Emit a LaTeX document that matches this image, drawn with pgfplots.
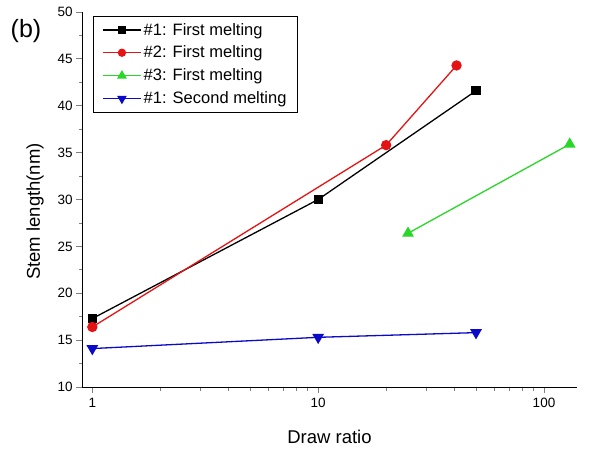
\documentclass[border=0pt]{standalone}
\usepackage{pgfplots}
\pgfplotsset{compat=1.18}
\usepackage{fontspec}
\setmainfont{Liberation Sans}
\definecolor{cred}{RGB}{228,20,20}
\definecolor{cgreen}{RGB}{40,215,40}
\definecolor{cblue}{RGB}{10,10,200}
\begin{document}
\begin{tikzpicture}[x=1pt,y=1pt]
\path[use as bounding box] (-82pt,-64pt) rectangle (507pt,387pt);
\begin{axis}[
  at={(0pt,0pt)}, anchor=south west,
  scale only axis, width=495pt, height=375pt,
  xmode=log, xmin=0.9, xmax=140,
  ymin=10, ymax=50,
  axis lines*=left,
  axis line style={line width=0.9pt},
  tick style={line width=0.8pt},
  tick align=outside,
  major tick length=6pt, minor tick length=3.5pt,
  xtick={1,10,100}, xticklabels={1,10,100},
  ytick={10,15,...,50}, minor y tick num=1,
  /pgf/number format/assume math mode=true,
  tick label style={font=\fontsize{13.5}{15}\selectfont},
  xticklabel style={yshift=-2pt},
  xlabel={Draw ratio}, ylabel={Stem length(nm)},
  xlabel style={font=\fontsize{18.5}{21}\selectfont, at={(rel axis cs:0.5,0)}, anchor=center, yshift=-50pt},
  ylabel style={font=\fontsize{18.5}{21}\selectfont, at={(rel axis cs:0,0.468)}, anchor=center, yshift=47pt},
  every axis plot/.append style={line width=1.3pt},
  legend style={at={(0.022,0.99)}, anchor=north west, draw=black, line width=0.6pt,
    font=\fontsize{16.5}{19}\selectfont, row sep=5.5pt, inner xsep=9pt, inner ysep=5pt},
  legend cell align=left,
  legend image code/.code={\draw[line width=1.5pt, mark repeat=2, mark phase=2, every mark/.append style={scale=0.75}] plot coordinates {(0pt,0pt) (19pt,0pt) (38pt,0pt)};},
  clip=false,
]
\addplot[black, mark=square*, mark size=4pt, mark options={solid}] coordinates {(1,17.3) (10,30.0) (50,41.6)};
\addlegendentry{\#1: First melting}
\addplot[cred, mark=*, mark size=4.5pt] coordinates {(1,16.4) (20,35.8) (41,44.3)};
\addlegendentry{\#2: First melting}
\addplot[cgreen, mark=triangle*, mark size=5.5pt] coordinates {(25,26.4) (130,35.9)};
\addlegendentry{\#3: First melting}
\addplot[cblue, mark=triangle*, mark size=5.5pt, mark options={rotate=180}] coordinates {(1,14.1) (10,15.3) (50,15.8)};
\addlegendentry{\#1: Second melting}
\end{axis}
\node[font=\fontsize{25}{28}\selectfont] at (-56pt,356pt) {(b)};
\end{tikzpicture}
\end{document}
